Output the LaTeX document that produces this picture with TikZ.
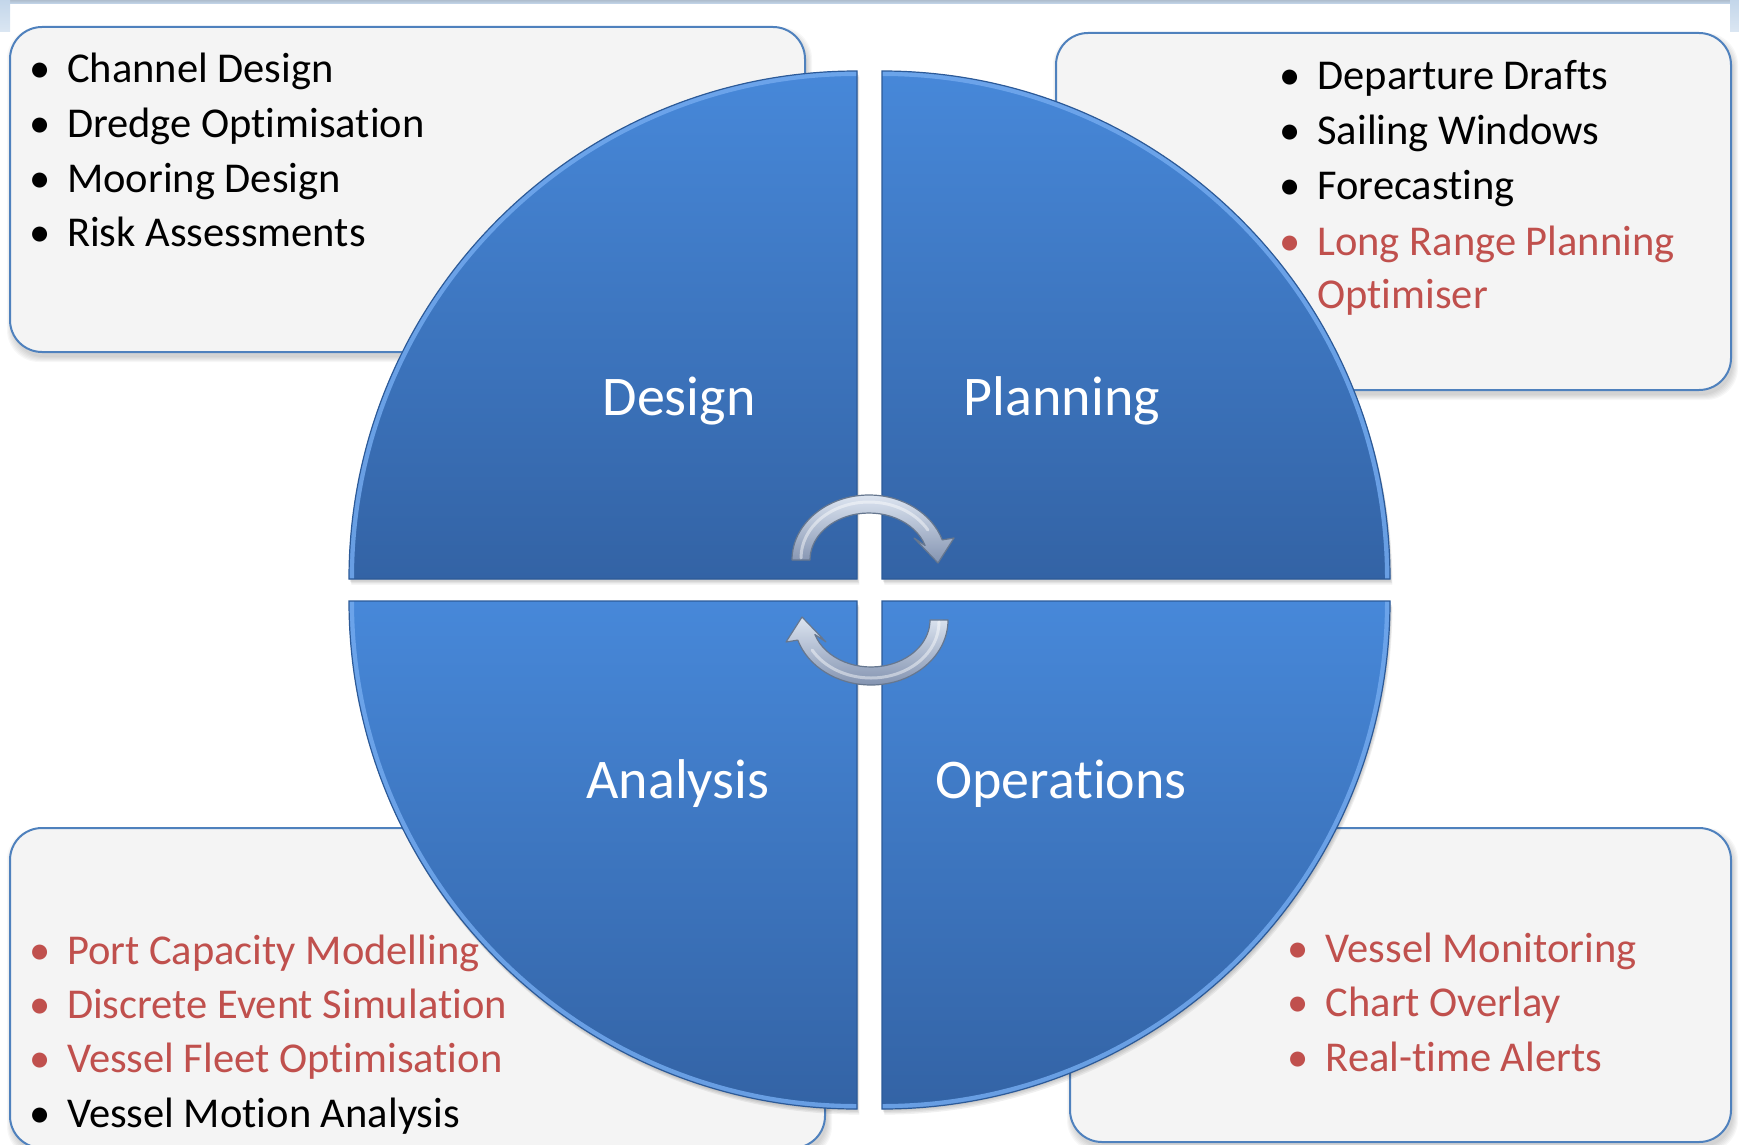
\documentclass[tikz,border=0pt]{standalone}
\usepackage{fontspec}
\setmainfont{Carlito}[Ligatures=NoCommon]
\usetikzlibrary{calc}

\definecolor{boxfill}{HTML}{F4F4F4}
\definecolor{boxline}{HTML}{4F81BD}
\definecolor{itemred}{HTML}{C0504D}
\definecolor{quadtop}{HTML}{4788D9}
\definecolor{quadbot}{HTML}{3363A5}
\definecolor{quadrim}{HTML}{72A9EE}
\definecolor{quadedge}{HTML}{2C5A98}
\definecolor{arrowlight}{HTML}{DCE4F0}
\definecolor{arrowdark}{HTML}{8494B1}
\definecolor{arrowedge}{HTML}{66778F}
\definecolor{stripblue}{HTML}{C3D6EA}

\newcommand{\itemfont}{\fontsize{21.25pt}{27pt}\selectfont}
\newcommand{\labelfont}{\fontsize{28pt}{34pt}\selectfont}

% one bullet line: name, bullet x, text x, baseline y, colour, text
\newcommand{\bulletitem}[6]{%
  \node[bulletmark,text=#5] (#1-dot) at (#2,#4) {\textbullet};
  \node[itemtext,text=#5] (#1) at (#3,#4) {#6};}

% soft shadow under a rounded panel: x1, y1, x2, y2
\newcommand{\panelshadow}[4]{%
  \foreach \k in {0,1,...,5}{%
    \fill[black,opacity=0.03,rounded corners=16pt]
      (#1-\k+2,#2-\k+5) rectangle (#3+\k+2,#4+\k+5);}}

% the four quarter discs
\def\quadTL{(857,579) -- (349,579) arc[start angle=180,end angle=270,radius=508] -- cycle}
\def\quadTR{(882,579) -- (882,71) arc[start angle=270,end angle=360,radius=508] -- cycle}
\def\quadBL{(857,601) -- (349,601) arc[start angle=180,end angle=90,radius=508] -- cycle}
\def\quadBR{(882,601) -- (1390,601) arc[start angle=0,end angle=90,radius=508] -- cycle}

\begin{document}
\begin{tikzpicture}[x=0.5pt,y=-0.5pt,
  panel/.style={fill=boxfill,draw=boxline,line width=1pt,rounded corners=16pt},
  itemtext/.style={anchor=base west,inner sep=0pt,font=\itemfont},
  bulletmark/.style={anchor=base,inner sep=0pt,font=\itemfont},
  quadlabel/.style={anchor=base,inner sep=0pt,text=white,font=\labelfont},
  quadfill/.style={top color=quadtop,bottom color=quadbot},
  quadline/.style={draw=quadedge,line width=0.6pt},
  rim/.style={draw=quadrim,line width=5pt,opacity=0.85},
  arrowbody/.style={top color=arrowlight,bottom color=arrowdark,draw=arrowedge,line width=0.6pt,line join=round},
  arrowshine/.style={draw=white,opacity=0.45,line width=1.5pt,line cap=round}]

\useasboundingbox (0,0) rectangle (1739,1145);
\clip (0,0) rectangle (1739,1145);

% thin header strips
\shade[top color=stripblue!85!black!90,bottom color=stripblue] (0,0) rectangle (1739,3.5);
\shade[top color=stripblue,bottom color=stripblue!60] (0,0) rectangle (10,32);
\shade[top color=stripblue,bottom color=stripblue!60] (1730,0) rectangle (1739,32);

% text panels
\panelshadow{10}{27}{805}{352}
\panelshadow{1056}{33}{1731}{390}
\panelshadow{10}{828}{825}{1148}
\panelshadow{1070}{828}{1731}{1142}
\draw[panel] (10,27) rectangle (805,352);
\draw[panel] (1056,33) rectangle (1731,390);
\draw[panel] (10,828) rectangle (825,1148);
\draw[panel] (1070,828) rectangle (1731,1142);

% panel lists
\bulletitem{chan}{40}{66.7}{82.7}{black}{Channel Design}
\bulletitem{dredge}{40}{66.7}{137.3}{black}{Dredge Optimisation}
\bulletitem{moor}{40}{66.7}{192.3}{black}{Mooring Design}
\bulletitem{risk}{40}{66.7}{246.7}{black}{Risk Assessments}

\bulletitem{depart}{1290.5}{1317}{89.3}{black}{Departure Drafts}
\bulletitem{sail}{1290.5}{1317}{144}{black}{Sailing Windows}
\bulletitem{fcast}{1290.5}{1317}{199.3}{black}{Forecasting}
\bulletitem{lrp}{1290.5}{1317}{255}{itemred}{Long Range Planning}
\node[itemtext,text=itemred] (lrp2) at (1317,308.5) {Optimiser};

\bulletitem{portcap}{40}{66.7}{964}{itemred}{Port Capacity Modelling}
\bulletitem{des}{40}{66.7}{1018.3}{itemred}{Discrete Event Simulation}
\bulletitem{fleet}{40}{66.7}{1072.7}{itemred}{Vessel Fleet Optimisation}
\bulletitem{motion}{40}{66.7}{1127.3}{black}{Vessel Motion Analysis}

\bulletitem{monit}{1297.7}{1325.3}{962.3}{itemred}{Vessel Monitoring}
\bulletitem{chart}{1297.7}{1325.3}{1016.7}{itemred}{Chart Overlay}
\bulletitem{alerts}{1297.7}{1325.3}{1071.7}{itemred}{Real-time Alerts}

% shadows of the quarter discs
\foreach \s in {1,2,3,4}{
  \begin{scope}[shift={(\s*0.6,\s*1.4)}]
    \fill[black,opacity=0.06] \quadTL;
    \fill[black,opacity=0.06] \quadTR;
    \fill[black,opacity=0.06] \quadBL;
    \fill[black,opacity=0.06] \quadBR;
  \end{scope}}

% quarter discs
\shade[quadfill] \quadTL;
\shade[quadfill] \quadTR;
\shade[quadfill] \quadBL;
\shade[quadfill] \quadBR;

% light rims along the curved edges
\begin{scope}\clip \quadTL; \draw[rim] (349,579) arc[start angle=180,end angle=270,radius=508]; \end{scope}
\begin{scope}\clip \quadTR; \draw[rim] (882,71) arc[start angle=270,end angle=360,radius=508]; \end{scope}
\begin{scope}\clip \quadBL; \draw[rim] (349,601) arc[start angle=180,end angle=90,radius=508]; \end{scope}
\begin{scope}\clip \quadBR; \draw[rim] (1390,601) arc[start angle=0,end angle=90,radius=508]; \end{scope}

\draw[quadline] \quadTL;
\draw[quadline] \quadTR;
\draw[quadline] \quadBL;
\draw[quadline] \quadBR;

% quadrant titles
\node[quadlabel] (design) at (679,415) {Design};
\node[quadlabel] (planning) at (1062,415) {Planning};
\node[quadlabel] (analysis) at (678,798) {Analysis};
\node[quadlabel] (operations) at (1061,798) {Operations};

% cycle arrows in the centre
\shade[arrowbody] (792,560) arc[start angle=180,end angle=342,x radius=77,y radius=65]
  -- (954,538) -- (938,563) -- (914,538) -- (925.1,545.5)
  arc[start angle=342,end angle=180,x radius=59,y radius=47] -- cycle;
\draw[arrowshine] (801,558) arc[start angle=180,end angle=330,x radius=68,y radius=56];

\shade[arrowbody] (948,620) arc[start angle=0,end angle=162,x radius=77,y radius=65]
  -- (786,642) -- (802,617) -- (826,642) -- (814.9,634.5)
  arc[start angle=162,end angle=0,x radius=59,y radius=47] -- cycle;
\draw[arrowshine] (939,622) arc[start angle=0,end angle=150,x radius=68,y radius=56];

\end{tikzpicture}
\end{document}
